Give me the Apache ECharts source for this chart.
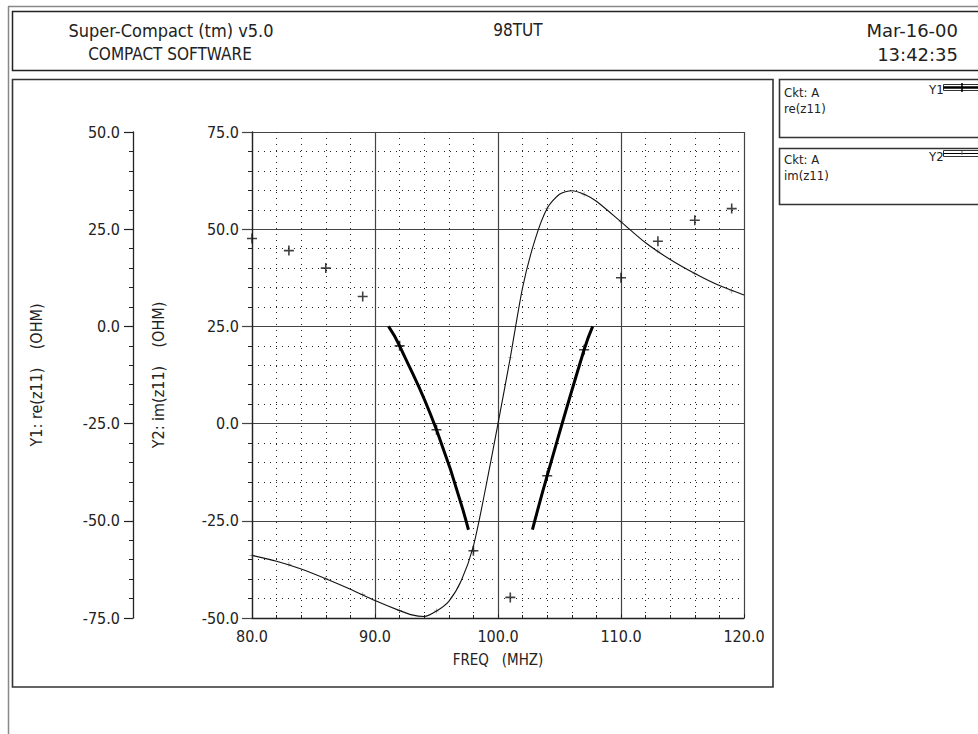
<!DOCTYPE html>
<html>
<head>
<meta charset="utf-8">
<script src="https://cdn.jsdelivr.net/npm/echarts@6/dist/echarts.min.js"></script>
<style>
html,body{margin:0;padding:0;background:#fff;}
#chart{width:978px;height:734px;}
</style>
</head>
<body>
<div id="chart"></div>
<script>
// ---- data ----
const markerFreq = [80, 83, 86, 89, 92, 95, 98, 101, 104, 107, 110, 113, 116, 119];
const reMarkers  = [22.6, 19.5, 15.0, 7.7, -5.0, -26.6, -57.7, -69.7, -38.4, -6.0, 12.5, 21.9, 27.3, 30.3];
const imMarkers  = [-33.9, -36.2, -39.9, -44.0, -48.1, -48.2, -32.8, 17.0, 55.4, 59.0, 51.9, 44.4, 38.6, 34.1];

const reCurveAFreq = [91.1, 92.0, 95.0, 97.6];
const reCurveAVal  = [0, -5.0, -26.6, -52.3];
const reCurveBFreq = [102.8, 104.0, 107.0, 107.7];
const reCurveBVal  = [-52.3, -38.4, -6.0, 0];

const imFreq = [80, 82, 84, 86, 88, 90, 92, 93, 94, 95, 96, 97, 98, 99, 100, 101, 102, 103, 104, 105, 106, 107, 108, 110, 112, 114, 116, 118, 120];
const imVal  = [-33.9, -35.4, -37.4, -39.9, -42.6, -45.5, -48.1, -49.2, -49.6, -48.2, -45.7, -40.5, -31.5, -16.5, 0, 17.0, 35.0, 47.2, 55.4, 59.0, 59.9, 59.0, 57.2, 51.9, 46.5, 42.2, 38.6, 35.5, 33.1];

const xTicks = {min: 80, max: 120, step: 10};
const y1Ticks = {min: -75, max: 50, step: 25};
const y2Ticks = {min: -50, max: 75, step: 25};

const headerLeft1 = 'Super-Compact (tm) v5.0';
const headerLeft2 = 'COMPACT SOFTWARE';
const headerMid = '98TUT';
const headerRight1 = 'Mar-16-00';
const headerRight2 = '13:42:35';

// ---- helpers ----
const FONT = '"DejaVu Sans Condensed", "Liberation Sans", sans-serif';
const WIDE = '"DejaVu Sans", sans-serif';
const SP = '\u00a0';
const fmt = v => v.toFixed(1);
const zip = (a, b) => a.map((v, i) => [v, b[i]]);
const bigPlus = 'path://M0,4.2H10V5.8H0Z M4.2,0H5.8V10H4.2Z';
const smallPlus = 'path://M0,4.4H10V5.6H0Z M4.4,0H5.6V10H4.4Z';

const chart = echarts.init(document.getElementById('chart'), null, {renderer: 'svg'});

const gridLeft = 252, gridTop = 132, gridW = 492, gridH = 486;

const option = {
  animation: false,
  backgroundColor: '#fff',
  textStyle: {fontFamily: FONT},
  grid: {left: gridLeft, top: gridTop, width: gridW, height: gridH, containLabel: false},
  xAxis: {
    type: 'value', min: xTicks.min, max: xTicks.max, interval: xTicks.step,
    axisLine: {show: true, onZero: false, lineStyle: {color: '#222', width: 1.3}},
    axisTick: {show: true, inside: true, length: 4, lineStyle: {color: '#222'}},
    minorTick: {show: true, splitNumber: 5, length: 3, lineStyle: {color: '#222'}},
    axisLabel: {formatter: fmt, fontSize: 16, color: '#222', margin: 10, fontFamily: FONT},
    splitLine: {show: true, lineStyle: {color: '#444', width: 1.2}},
    minorSplitLine: {show: true, lineStyle: {color: '#222', width: 1, type: [1, 5]}},
    name: 'FREQ' + SP + SP + SP + '(MHZ)', nameLocation: 'middle', nameGap: 34,
    nameTextStyle: {fontSize: 15, color: '#222', fontFamily: FONT}
  },
  yAxis: [
    {
      type: 'value', position: 'left', offset: 0,
      min: y2Ticks.min, max: y2Ticks.max, interval: y2Ticks.step,
      axisLine: {show: true, onZero: false, lineStyle: {color: '#222', width: 1.3}},
      axisTick: {show: true, length: 10, lineStyle: {color: '#444', width: 1.2}},
      minorTick: {show: true, splitNumber: 5, length: 4, lineStyle: {color: '#222'}},
      axisLabel: {formatter: fmt, fontSize: 16, color: '#222', margin: 13, fontFamily: FONT},
      splitLine: {show: true, lineStyle: {color: '#444', width: 1.2}},
      minorSplitLine: {show: true, lineStyle: {color: '#222', width: 1, type: [1, 5]}},
      name: 'Y2: im(z11)' + SP + SP + SP + SP + '(OHM)', nameLocation: 'middle', nameRotate: 90, nameGap: 86,
      nameTextStyle: {fontSize: 16, color: '#222', fontFamily: FONT}
    },
    {
      type: 'value', position: 'left', offset: 119,
      min: y1Ticks.min, max: y1Ticks.max, interval: y1Ticks.step,
      axisLine: {show: true, onZero: false, lineStyle: {color: '#222', width: 1.3}},
      axisTick: {show: true, length: 9, lineStyle: {color: '#222', width: 1.2}},
      minorTick: {show: true, splitNumber: 5, length: 4, lineStyle: {color: '#222'}},
      axisLabel: {formatter: fmt, fontSize: 16, color: '#222', margin: 13, fontFamily: FONT},
      splitLine: {show: false},
      name: 'Y1: re(z11)' + SP + SP + SP + SP + '(OHM)', nameLocation: 'middle', nameRotate: 90, nameGap: 89,
      nameTextStyle: {fontSize: 16, color: '#222', fontFamily: FONT}
    }
  ],
  series: [
    {type: 'line', yAxisIndex: 0, data: zip(imFreq, imVal), symbol: 'none', smooth: 0.25,
     lineStyle: {color: '#111', width: 1.1}, clip: true},
    {type: 'scatter', yAxisIndex: 0, data: zip(markerFreq, imMarkers), symbol: smallPlus, symbolSize: 5,
     itemStyle: {color: '#666'}},
    {type: 'line', yAxisIndex: 1, data: zip(reCurveAFreq, reCurveAVal), symbol: 'none', smooth: 0.5,
     lineStyle: {color: '#000', width: 3}},
    {type: 'line', yAxisIndex: 1, data: zip(reCurveBFreq, reCurveBVal), symbol: 'none', smooth: 0.5,
     lineStyle: {color: '#000', width: 3}},
    {type: 'scatter', yAxisIndex: 1, data: zip(markerFreq, reMarkers), symbol: bigPlus, symbolSize: 10,
     itemStyle: {color: '#111'}}
  ],
  graphic: [
    {type: 'line', shape: {x1: 8, y1: 6.5, x2: 978, y2: 6.5}, style: {stroke: '#888', lineWidth: 1.5}},
    {type: 'line', shape: {x1: 8.5, y1: 6.5, x2: 8.5, y2: 734}, style: {stroke: '#888', lineWidth: 1.5}},
    {type: 'rect', shape: {x: 12.5, y: 11.5, width: 980, height: 59}, style: {fill: 'none', stroke: '#222', lineWidth: 1.5}},
    {type: 'rect', shape: {x: 12.5, y: 79.5, width: 760.5, height: 607.5}, style: {fill: 'none', stroke: '#333', lineWidth: 1.6}},
    {type: 'rect', shape: {x: 779.5, y: 79.5, width: 210, height: 58}, style: {fill: 'none', stroke: '#333', lineWidth: 1.6}},
    {type: 'rect', shape: {x: 779.5, y: 148.5, width: 210, height: 56}, style: {fill: 'none', stroke: '#333', lineWidth: 1.6}},
    {type: 'text', x: 171, y: 30, style: {text: headerLeft1, font: '18px ' + FONT, fill: '#222', align: 'center', verticalAlign: 'middle'}},
    {type: 'text', x: 170, y: 54, style: {text: headerLeft2, font: '17px ' + FONT, fill: '#222', align: 'center', verticalAlign: 'middle'}},
    {type: 'text', x: 518, y: 30, style: {text: headerMid, font: '17px ' + FONT, fill: '#222', align: 'center', verticalAlign: 'middle'}},
    {type: 'text', x: 958, y: 30, style: {text: headerRight1, font: '18px ' + WIDE, fill: '#222', align: 'right', verticalAlign: 'middle'}},
    {type: 'text', x: 958, y: 54, style: {text: headerRight2, font: '18px ' + WIDE, fill: '#222', align: 'right', verticalAlign: 'middle'}},
    // legend 1
    {type: 'text', x: 784, y: 92, style: {text: 'Ckt: A', font: '13px ' + FONT, fill: '#222', align: 'left', verticalAlign: 'middle'}},
    {type: 'text', x: 784, y: 108, style: {text: 're(z11)', font: '13px ' + FONT, fill: '#222', align: 'left', verticalAlign: 'middle'}},
    {type: 'text', x: 929, y: 89, style: {text: 'Y1', font: '13px ' + FONT, fill: '#222', align: 'left', verticalAlign: 'middle'}},
    {type: 'rect', shape: {x: 943.5, y: 84.5, width: 45, height: 6}, style: {fill: 'none', stroke: '#333', lineWidth: 1}},
    {type: 'line', shape: {x1: 943.5, y1: 87.5, x2: 978, y2: 87.5}, style: {stroke: '#000', lineWidth: 2.5}},
    {type: 'line', shape: {x1: 962, y1: 83, x2: 962, y2: 92}, style: {stroke: '#000', lineWidth: 1.5}},
    // legend 2
    {type: 'text', x: 784, y: 159, style: {text: 'Ckt: A', font: '13px ' + FONT, fill: '#222', align: 'left', verticalAlign: 'middle'}},
    {type: 'text', x: 784, y: 175, style: {text: 'im(z11)', font: '13px ' + FONT, fill: '#222', align: 'left', verticalAlign: 'middle'}},
    {type: 'text', x: 929, y: 156, style: {text: 'Y2', font: '13px ' + FONT, fill: '#222', align: 'left', verticalAlign: 'middle'}},
    {type: 'rect', shape: {x: 943.5, y: 150.5, width: 45, height: 6}, style: {fill: 'none', stroke: '#333', lineWidth: 1}},
    {type: 'line', shape: {x1: 943.5, y1: 153.5, x2: 978, y2: 153.5}, style: {stroke: '#000', lineWidth: 1}},
    {type: 'line', shape: {x1: 962, y1: 151, x2: 962, y2: 155}, style: {stroke: '#666', lineWidth: 1}}
  ]
};
chart.setOption(option);
</script>
</body>
</html>
